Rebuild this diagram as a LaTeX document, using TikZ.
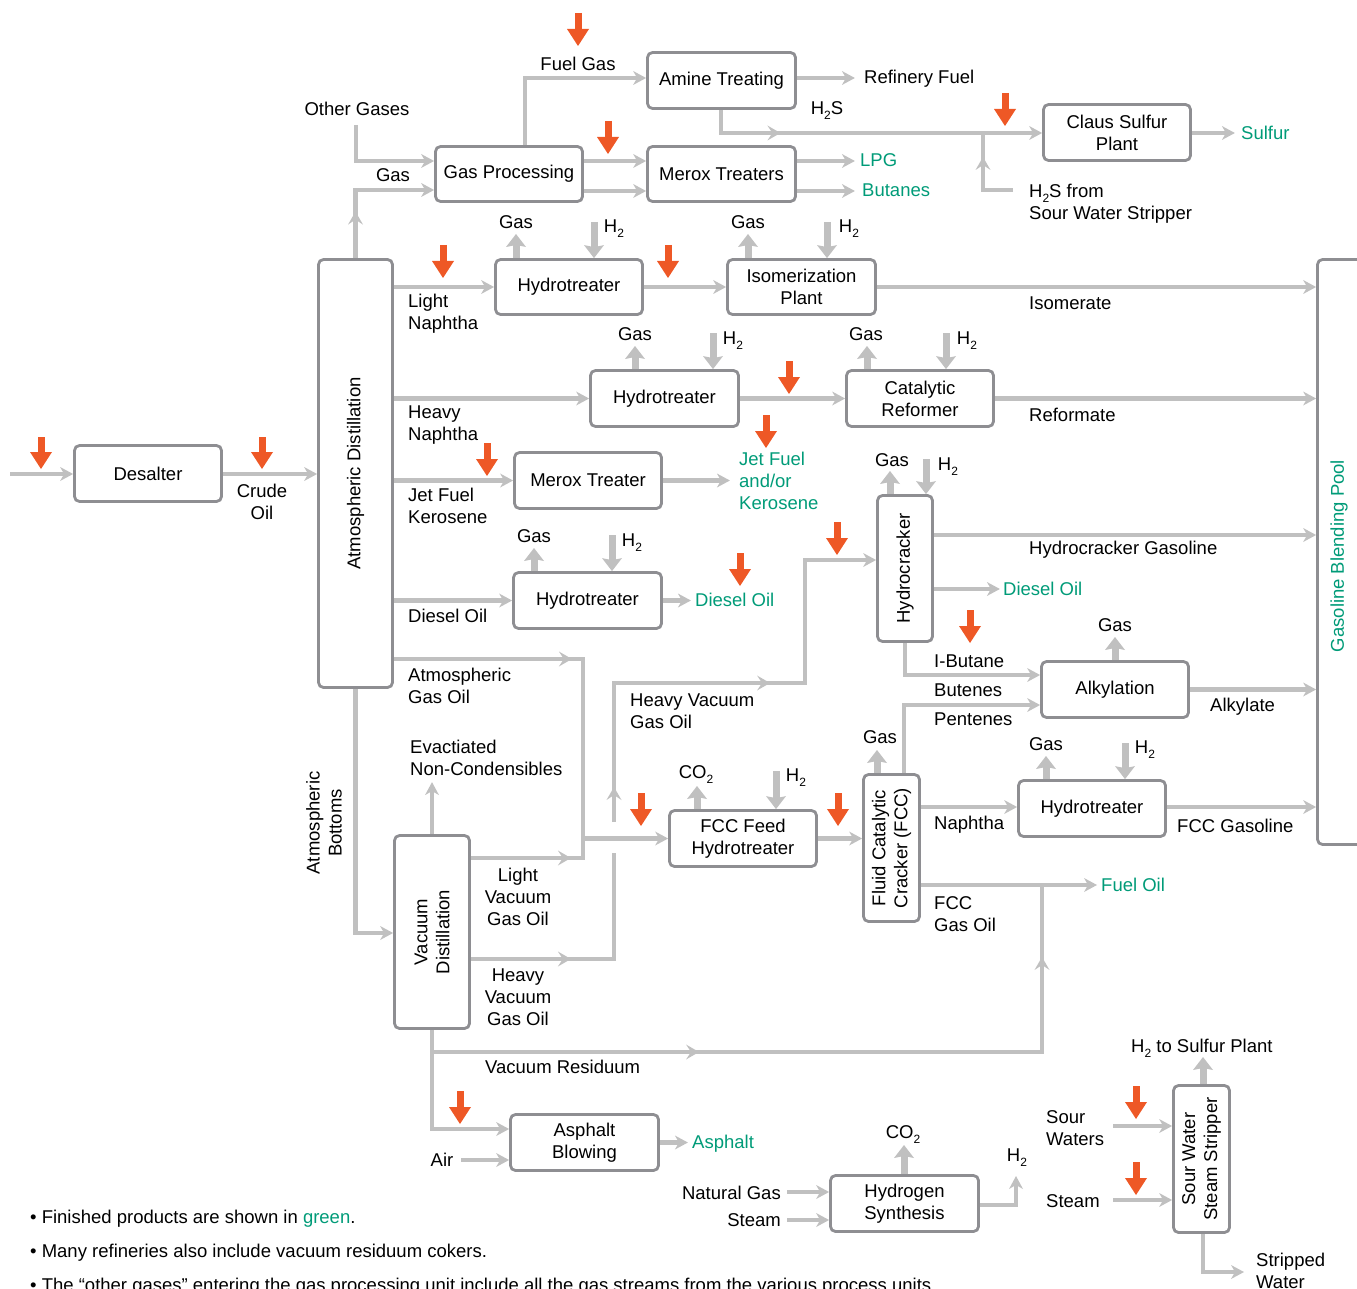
\documentclass[tikz,border=0pt]{standalone}
\usepackage{fontspec}
\setmainfont{Liberation Sans}
\usetikzlibrary{arrows.meta,decorations.markings}
\definecolor{lg}{RGB}{192,192,192}
\definecolor{bx}{RGB}{142,142,146}
\definecolor{org}{RGB}{238,88,38}
\definecolor{grn}{RGB}{0,155,120}
\newcommand{\subtwo}{\raisebox{-5pt}{\fontsize{12}{12}\selectfont 2}}
\tikzset{
  ghead/.tip={Stealth[length=13pt,width=14pt,inset=4pt,line width=0pt]},
  mhead/.tip={Stealth[length=13pt,width=15pt,inset=5pt,line width=0pt]},
  box/.style={draw=bx,line width=2.8pt,rounded corners=5pt,fill=white,inner sep=0pt,align=center},
  flow/.style={draw=lg,line width=4.5pt,-{ghead}},
  pipe/.style={draw=lg,line width=4.5pt},
  marr/.style={postaction={decorate,decoration={markings,mark=at position #1 with {\arrow{mhead}}}}},
  side/.style={draw=lg,line width=7pt,-{Stealth[length=13pt,width=20pt,inset=2pt,line width=0pt]}},
  hot/.style={draw=org,line width=7pt,-{Triangle[length=17pt,width=22pt,line width=0pt]}},
  lbl/.style={inner sep=0pt,align=left,anchor=west},
  cl/.style={inner sep=0pt,align=center},
  prod/.style={lbl,text=grn},
}
\begin{document}
\begin{tikzpicture}[x=1pt,y=-1pt,font=\fontsize{18.5}{22}\selectfont]
\useasboundingbox (0,0) rectangle (1357,1289);
\clip (0,0) rectangle (1357,1289);

% ---------- boxes ----------
\node[box,minimum width=147pt,minimum height=56pt] (desalter) at (148,473.5) {Desalter};
\node[box,minimum width=74pt,minimum height=428pt] (atm) at (355.5,473.5) {};
\node[rotate=90,cl] (atmt) at (atm) {Atmospheric Distillation};
\node[box,minimum width=147pt,minimum height=55pt] (gasproc) at (509,174) {Gas Processing};
\node[box,minimum width=148pt,minimum height=56pt] (amine) at (721.5,80.5) {Amine Treating};
\node[box,minimum width=148pt,minimum height=55pt] (merox) at (721.5,174) {Merox Treaters};
\node[box,minimum width=147pt,minimum height=56pt] (claus) at (1117,132.5) {Claus Sulfur\\Plant};
\node[box,minimum width=147pt,minimum height=55pt] (ht1) at (569,287) {Hydrotreater};
\node[box,minimum width=148pt,minimum height=55pt] (isom) at (801.5,287) {Isomerization\\Plant};
\node[box,minimum width=148pt,minimum height=56pt] (ht2) at (664.5,398.5) {Hydrotreater};
\node[box,minimum width=147pt,minimum height=56pt] (catref) at (920,398.5) {Catalytic\\Reformer};
\node[box,minimum width=147pt,minimum height=56pt] (meroxt) at (588,480.5) {Merox Treater};
\node[box,minimum width=148pt,minimum height=56pt] (ht3) at (587.5,600.5) {Hydrotreater};
\node[box,minimum width=55pt,minimum height=146pt] (hc) at (905,568.5) {};
\node[rotate=90,cl] (hct) at (hc) {Hydrocracker};
\node[box,minimum width=147pt,minimum height=56pt] (alky) at (1115,689.5) {Alkylation};
\node[box,minimum width=65pt,minimum height=585pt] (gbp) at (1350,552) {};
\node[rotate=90,cl,text=grn] (gbpt) at (1339,556) {Gasoline Blending Pool};
\node[box,minimum width=75pt,minimum height=193pt] (vac) at (432,932) {};
\node[rotate=90,cl] (vact) at (vac) {Vacuum\\Distillation};
\node[box,minimum width=147pt,minimum height=56pt] (ffht) at (743,838.5) {FCC Feed\\Hydrotreater};
\node[box,minimum width=56pt,minimum height=147pt] (fcc) at (891.5,848) {};
\node[rotate=90,cl] (fcct) at (fcc) {Fluid Catalytic\\Cracker (FCC)};
\node[box,minimum width=147pt,minimum height=56pt] (ht4) at (1092,808.5) {Hydrotreater};
\node[box,minimum width=148pt,minimum height=56pt] (asph) at (584.5,1142.5) {Asphalt\\Blowing};
\node[box,minimum width=148pt,minimum height=56pt] (h2syn) at (904.5,1203.5) {Hydrogen\\Synthesis};
\node[box,minimum width=56pt,minimum height=147pt] (sws) at (1201.5,1159) {};
\node[rotate=90,cl] (swst) at (sws) {Sour Water\\Steam Stripper};

% ---------- free ends ----------
\coordinate (crudein) at (10,474);
\coordinate (othin) at (356,125);
\coordinate (swsin) at (1013,190);
\coordinate (airin) at (461,1160);
\coordinate (ngin) at (787,1192);
\coordinate (stin) at (787,1220);
\coordinate (swin) at (1113,1126);
\coordinate (st2in) at (1113,1200);

% ---------- connectors ----------
\draw[flow] (crudein) -- (desalter.west |- crudein);
\draw[flow] (desalter.east |- crudein) -- (atm.west |- crudein);
\draw[flow,marr=46.5pt] (atm.north) -- (atm.north |- 0,190) -- (gasproc.west |- 0,190);
\draw[flow] (othin) -- (356,161) -- (gasproc.west |- 0,161);
\draw[flow] (525,0 |- gasproc.north) -- (525,78) -- (amine.west |- 0,78);
\draw[flow] (gasproc.east |- 0,161) -- (merox.west |- 0,161);
\draw[flow] (gasproc.east |- 0,191) -- (merox.west |- 0,191);
\draw[flow] (amine.east |- 0,78) -- ++(58,0);
\draw[flow,marr=82.5pt] (721,0 |- amine.south) -- (721,133) -- (claus.west |- 0,133);
\draw[pipe,marr=63pt] (swsin) -- (983,190) -- (983,133);
\draw[flow] (claus.east |- 0,133) -- ++(43,0);
\draw[flow] (merox.east |- 0,161) -- ++(58,0);
\draw[flow] (merox.east |- 0,191) -- ++(58,0);

\draw[flow] (atm.east |- ht1.west) -- (ht1.west);
\draw[flow] (ht1.east) -- (isom.west);
\draw[flow] (isom.east) -- (gbp.west |- isom.east);
\draw[flow] (atm.east |- ht2.west) -- (ht2.west);
\draw[flow] (ht2.east) -- (catref.west);
\draw[flow] (catref.east) -- (gbp.west |- catref.east);
\draw[flow] (atm.east |- meroxt.west) -- (meroxt.west);
\draw[flow] (meroxt.east) -- ++(67,0);
\draw[flow] (atm.east |- ht3.west) -- (ht3.west);
\draw[flow] (ht3.east) -- ++(28,0);
\draw[flow,marr=178pt] (atm.east |- 0,659) -- (583,659) -- (583,838.5) -- (ffht.west);
\draw[flow] (atm.south) -- (atm.south |- 0,933) -- (vac.west |- 0,933);
\draw[flow] (vac.north) -- ++(0,-52);
\draw[pipe,marr=100pt] (vac.east |- 0,858) -- (583,858) -- (583,838.5);
\draw[pipe,marr=100pt] (vac.east |- 0,959) -- (614,959) -- (614,853);
\draw[flow,marr=35pt,marr=295pt] (614,822) -- (614,683) -- (805,683) -- (805,560) -- (hc.west |- 0,560);
\draw[flow] (vac.south) -- (vac.south |- 0,1129) -- (asph.west |- 0,1129);
\draw[pipe,marr=267pt,marr=705pt] (vac.south |- 0,1052) -- (1042,1052) -- (1042,885);

\draw[flow] (hc.east |- 0,535) -- (gbp.west |- 0,535);
\draw[flow] (hc.east |- 0,589) -- ++(66,0);
\draw[flow] (hc.south) -- (hc.south |- 0,675) -- (alky.west |- 0,675);
\draw[flow] (904,0 |- fcc.north) -- (904,705) -- (alky.west |- 0,705);
\draw[flow] (alky.east) -- (gbp.west |- alky.east);
\draw[flow] (ffht.east) -- (fcc.west |- ffht.east);
\draw[flow] (fcc.east |- 0,807) -- (ht4.west |- 0,807);
\draw[flow] (ht4.east |- 0,807) -- (gbp.west |- 0,807);
\draw[flow] (fcc.east |- 0,885) -- (1097,885);

\draw[flow] (airin) -- (asph.west |- airin);
\draw[flow] (asph.east) -- ++(28,0);
\draw[flow] (ngin) -- (h2syn.west |- ngin);
\draw[flow] (stin) -- (h2syn.west |- stin);
\draw[flow] (h2syn.east |- 0,1205) -- (1016,1205) -- (1016,1176);
\draw[flow] (swin) -- (sws.west |- swin);
\draw[flow] (st2in) -- (sws.west |- st2in);
\draw[side] (1203,0 |- sws.north) -- (1203,1057);
\draw[flow] (1203,0 |- sws.south) -- (1203,1272) -- (1244,1272);

% ---------- side streams (gas / H2 / CO2) ----------
\draw[side] (516,0 |- ht1.north) -- (516,234);
\draw[side] (594,222) -- (594,0 |- ht1.north);
\draw[side] (748,0 |- isom.north) -- (748,234);
\draw[side] (827,222) -- (827,0 |- isom.north);
\draw[side] (635,0 |- ht2.north) -- (635,346);
\draw[side] (713,333) -- (713,0 |- ht2.north);
\draw[side] (867,0 |- catref.north) -- (867,346);
\draw[side] (946,333) -- (946,0 |- catref.north);
\draw[side] (534,0 |- ht3.north) -- (534,548);
\draw[side] (612,535) -- (612,0 |- ht3.north);
\draw[side] (890,0 |- hc.north) -- (890,471);
\draw[side] (926,459) -- (926,0 |- hc.north);
\draw[side] (1115,0 |- alky.north) -- (1115,637);
\draw[side] (877,0 |- fcc.north) -- (877,750);
\draw[side] (1046,0 |- ht4.north) -- (1046,756);
\draw[side] (1125,743) -- (1125,0 |- ht4.north);
\draw[side] (697,0 |- ffht.north) -- (697,786);
\draw[side] (776,771) -- (776,0 |- ffht.north);
\draw[side] (904,0 |- h2syn.north) -- (904,1145);

% ---------- orange markers ----------
\foreach \x/\ya/\yb in {41/437/469, 262/437/469, 578/13/46, 608/121/154, 1005/93/126,
  443/245/278, 668/245/278, 789/361/394, 487/443/476, 766/415/448, 740/553/586,
  837/522/555, 970/610/643, 641/793/826, 838/793/826, 460/1091/1124, 1136/1086/1119, 1136/1162/1195}
  \draw[hot] (\x,\ya) -- (\x,\yb);

% ---------- labels ----------
\node[cl] (lcrude) at (262,502) {Crude\\Oil};
\node[cl] (lother) at (357,109) {Other Gases};
\node[cl] (lgas0) at (393,175) {Gas};
\node[cl] (lfuel) at (578,64) {Fuel Gas};
\node[lbl] (lref) at (864,79) {Refinery Fuel};
\node[cl] (lh2s) at (827,111) {H\subtwo S};
\node[prod] (llpg) at (860,160) {LPG};
\node[prod] (lbut) at (862,190) {Butanes};
\node[prod] (lsulf) at (1241,133) {Sulfur};
\node[lbl] (lh2ssw) at (1029,204) {H\subtwo S from\\Sour Water Stripper};

\node[cl] (g1) at (516,222) {Gas};
\node[cl] (h1) at (614,229) {H\subtwo};
\node[cl] (g2) at (748,222) {Gas};
\node[cl] (h2) at (849,229) {H\subtwo};
\node[cl] (g3) at (635,334) {Gas};
\node[cl] (h3) at (733,341) {H\subtwo};
\node[cl] (g4) at (866,334) {Gas};
\node[cl] (h4) at (967,341) {H\subtwo};
\node[cl] (g5) at (534,536) {Gas};
\node[cl] (h5) at (632,543) {H\subtwo};
\node[cl] (g6) at (892,460) {Gas};
\node[cl] (h6) at (948,467) {H\subtwo};
\node[cl] (g7) at (1115,625) {Gas};
\node[cl] (g8) at (880,737) {Gas};
\node[cl] (g9) at (1046,744) {Gas};
\node[cl] (h9) at (1145,750) {H\subtwo};
\node[cl] (c1) at (696,775) {CO\subtwo};
\node[cl] (h10) at (796,778) {H\subtwo};
\node[cl] (c2) at (903,1135) {CO\subtwo};
\node[cl] (h11) at (1017,1158) {H\subtwo};

\node[lbl] (lln) at (408,314) {Light\\Naphtha};
\node[lbl] (lhn) at (408,425) {Heavy\\Naphtha};
\node[lbl] (ljk) at (408,506) {Jet Fuel\\Kerosene};
\node[lbl] (ldo) at (408,616) {Diesel Oil};
\node[lbl] (lago) at (408,686) {Atmospheric\\Gas Oil};
\node[rotate=90,cl] (lab) at (324,823) {Atmospheric\\Bottoms};
\node[lbl] (levac) at (410,758) {Evactiated\\Non-Condensibles};
\node[lbl] (lhvgo) at (630,711) {Heavy Vacuum\\Gas Oil};
\node[cl] (llvgo) at (518,897) {Light\\Vacuum\\Gas Oil};
\node[cl] (lhvgo2) at (518,997) {Heavy\\Vacuum\\Gas Oil};
\node[lbl] (lvr) at (485,1067) {Vacuum Residuum};

\node[lbl] (liso) at (1029,303) {Isomerate};
\node[lbl] (lrefm) at (1029,415) {Reformate};
\node[prod] (ljet) at (739,481) {Jet Fuel\\and/or\\Kerosene};
\node[prod] (ldiesel1) at (695,600) {Diesel Oil};
\node[lbl] (lhcg) at (1029,550) {Hydrocracker Gasoline};
\node[prod] (ldiesel2) at (1003,589) {Diesel Oil};
\node[lbl] (libut) at (934,661) {I-Butane};
\node[lbl] (lbutn) at (934,690) {Butenes};
\node[lbl] (lpent) at (934,719) {Pentenes};
\node[lbl] (lalk) at (1210,707) {Alkylate};
\node[lbl] (lnap) at (934,825) {Naphtha};
\node[lbl] (lfccg) at (1177,826) {FCC Gasoline};
\node[prod] (lfo) at (1101,885) {Fuel Oil};
\node[lbl] (lfccgo) at (934,914) {FCC\\Gas Oil};

\node[cl] (lair) at (442,1160) {Air};
\node[prod] (lasph) at (692,1144) {Asphalt};
\node[cl,anchor=east] (lng) at (781,1193) {Natural Gas};
\node[cl,anchor=east] (lst) at (781,1220) {Steam};
\node[lbl] (lh2sp) at (1131,1048) {H\subtwo{} to Sulfur Plant};
\node[lbl] (lsw) at (1046,1128) {Sour\\Waters};
\node[lbl] (lst2) at (1046,1201) {Steam};
\node[lbl] (lstw) at (1256,1271) {Stripped\\Water};

\node[lbl] (n1) at (30,1219) {• Finished products are shown in \textcolor{grn}{green}.};
\node[lbl] (n2) at (30,1253) {• Many refineries also include vacuum residuum cokers.};
\node[lbl] (n3) at (30,1287) {• The “other gases” entering the gas processing unit include all the gas streams from the various process units.};
\end{tikzpicture}
\end{document}
